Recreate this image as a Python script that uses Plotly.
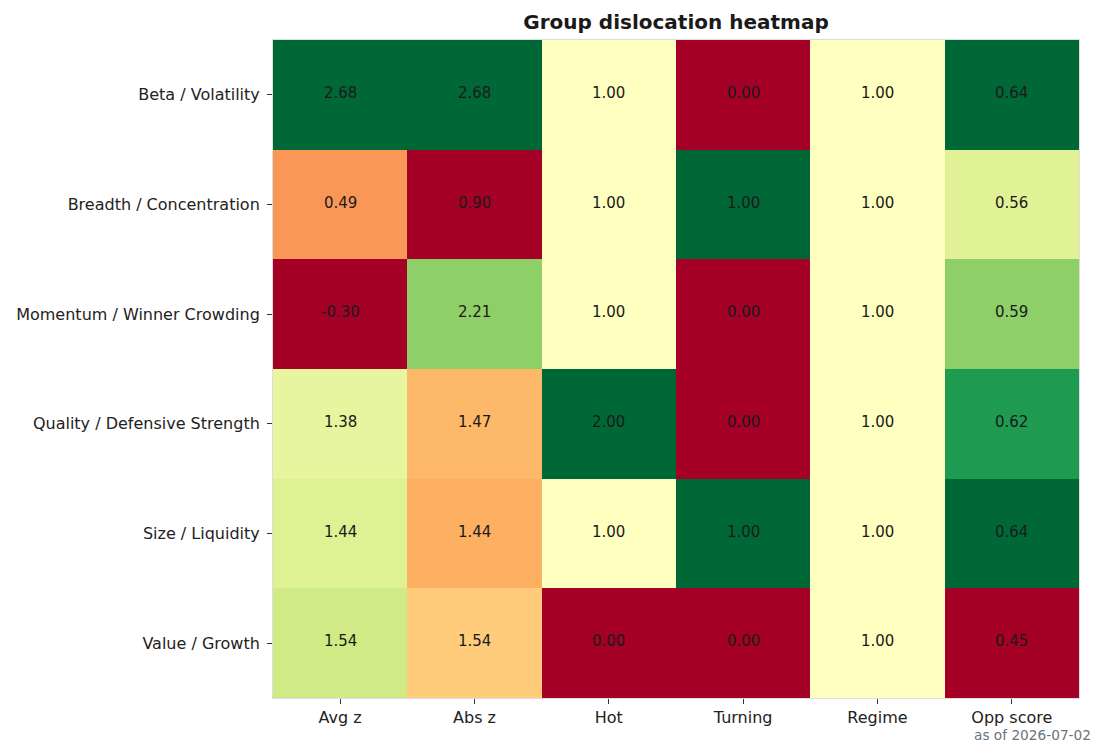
import numpy as np
import plotly.graph_objects as go

groups = ["Beta / Volatility", "Breadth / Concentration", "Momentum / Winner Crowding",
          "Quality / Defensive Strength", "Size / Liquidity", "Value / Growth"]
metrics = ["Avg z", "Abs z", "Hot", "Turning", "Regime", "Opp score"]

avg_z = [2.68, 0.49, -0.30, 1.38, 1.44, 1.54]
abs_z = [2.68, 0.90, 2.21, 1.47, 1.44, 1.54]
hot = [1.00, 1.00, 1.00, 2.00, 1.00, 0.00]
turning = [0.00, 1.00, 0.00, 0.00, 1.00, 0.00]
regime = [1.00, 1.00, 1.00, 1.00, 1.00, 1.00]
opp_score = [0.64, 0.56, 0.59, 0.62, 0.64, 0.45]

values = np.array([avg_z, abs_z, hot, turning, regime, opp_score]).T  # rows=groups, cols=metrics

# per-column normalisation for colouring
norm = np.zeros_like(values)
for j in range(values.shape[1]):
    col = values[:, j]
    lo, hi = col.min(), col.max()
    norm[:, j] = 0.5 if hi == lo else (col - lo) / (hi - lo)

fig = go.Figure(go.Heatmap(
    z=norm, x=metrics, y=groups,
    colorscale="RdYlGn", zmin=0, zmax=1, showscale=False,
    customdata=values, hovertemplate="%{y}<br>%{x}: %{customdata:.2f}<extra></extra>",
    xgap=0, ygap=0,
))

annotations = []
for i, g in enumerate(groups):
    for j, m in enumerate(metrics):
        annotations.append(dict(x=m, y=g, xref="x", yref="y", text=f"{values[i, j]:.2f}",
                                showarrow=False, yshift=2,
                                font=dict(family="DejaVu Sans", size=15, color="#1a1a1a")))
annotations.append(dict(text="as of 2026-07-02", xref="paper", yref="paper",
                        x=(1093 - 273) / 806, y=(698 - 735) / 658, xanchor="right", yanchor="middle",
                        showarrow=False, font=dict(size=13.7, color="#6b7280")))

fig.update_layout(
    width=1106, height=756,
    margin=dict(l=273, r=27, t=40, b=58),
    paper_bgcolor="white", plot_bgcolor="white",
    font=dict(family="DejaVu Sans", size=16, color="#222222"),
    title=dict(text="<b>Group dislocation heatmap</b>", x=0.5, xref="paper",
               y=1 - 22 / 756, yref="container", yanchor="middle", xanchor="center",
               font=dict(size=20, color="#1a1a1a")),
    annotations=annotations,
)
fig.update_xaxes(showgrid=False, zeroline=False, ticks="outside", ticklen=5, tickcolor="#333",
                 showline=True, linecolor="#dddddd", linewidth=1, mirror=True,
                 ticklabelstandoff=0,
                 tickfont=dict(size=16, color="#222"))
fig.update_yaxes(showgrid=False, zeroline=False, ticks="outside", ticklen=5, tickcolor="#333",
                 autorange="reversed", ticklabelstandoff=4,
                 showline=True, linecolor="#dddddd", linewidth=1, mirror=True,
                 tickfont=dict(size=16, color="#222"))

fig.write_html("out.html")
